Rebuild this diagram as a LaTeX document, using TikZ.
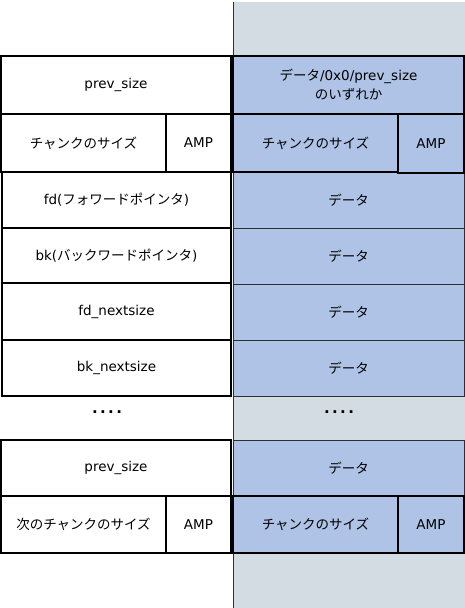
\documentclass[tikz,border=0pt]{standalone}
\usepackage{fontspec}
\setmainfont{DejaVu Sans}
\newfontfamily\jp[Scale=1.0]{Noto Sans CJK JP}
\definecolor{blueA}{HTML}{AEC3E6}
\definecolor{grayA}{HTML}{D3DCE3}
\definecolor{lineA}{HTML}{2B2F33}
\begin{document}
\begin{tikzpicture}[x=1pt,y=-1pt,
  cell/.style={draw=black, line width=1.6pt, inner sep=0pt, outer sep=0pt, align=center,
    font=\fontsize{13.5}{19}\selectfont},
  lcell/.style={cell, fill=white},
  rcell/.style={cell, fill=blueA, line width=1.4pt},
  dcell/.style={cell, fill=blueA, draw=lineA, line width=0.9pt},
  dots/.style={inner sep=0pt, font=\fontsize{15}{16}\selectfont\bfseries}
]
\useasboundingbox (0,0) rectangle (465,608);
% gray background column
\fill[grayA] (233,2) rectangle (465,608);
\draw[lineA, line width=0.8pt] (233,2) -- (233,608);

% ---- left column ----
\node[lcell, minimum width=230, minimum height=58] (lps1) at (116,85) {prev\_size};
\node[lcell, minimum width=165, minimum height=58] (lsz1) at (83.5,143) {{\jp チャンクのサイズ}};
\node[lcell, minimum width=65, minimum height=58] (lamp1) at (198.5,143) {AMP};
\node[lcell, minimum width=229, minimum height=56] (lfd) at (116.5,200) {fd({\jp フォワードポインタ})};
\node[lcell, minimum width=229, minimum height=55] (lbk) at (116.5,255.5) {bk({\jp バックワードポインタ})};
\node[lcell, minimum width=229, minimum height=57] (lfdn) at (116.5,312) {fd\_nextsize};
\node[lcell, minimum width=229, minimum height=56] (lbkn) at (116.5,368) {bk\_nextsize};
\node[dots] (ldots) at (107,412) {.\hspace{2.4pt}.\hspace{2.4pt}.\hspace{2.4pt}.};
\node[lcell, minimum width=230, minimum height=56] (lps2) at (116,468) {prev\_size};
\node[lcell, minimum width=165, minimum height=57] (lsz2) at (83.5,524.5) {{\jp 次のチャンクのサイズ}};
\node[lcell, minimum width=65, minimum height=57] (lamp2) at (198.5,524.5) {AMP};

% ---- right column ----
\node[rcell, minimum width=231, minimum height=58] (rtop) at (348.5,85) {{\jp データ}/0x0/prev\_size\\{\jp のいずれか}};
\node[dcell, minimum width=231, minimum height=56] (rd1) at (348.5,200) {{\jp データ}};
\node[dcell, minimum width=231, minimum height=56] (rd2) at (348.5,256) {{\jp データ}};
\node[dcell, minimum width=231, minimum height=56] (rd3) at (348.5,312) {{\jp データ}};
\node[dcell, minimum width=231, minimum height=56] (rd4) at (348.5,368) {{\jp データ}};
\node[rcell, minimum width=165, minimum height=58] (rsz1) at (315.5,143) {{\jp チャンクのサイズ}};
\node[rcell, minimum width=66, minimum height=59] (ramp1) at (431,143.5) {AMP};
\node[dots] (rdots) at (339,412) {.\hspace{2.4pt}.\hspace{2.4pt}.\hspace{2.4pt}.};
\node[dcell, minimum width=231, minimum height=56] (rd5) at (348.5,468) {{\jp データ}};
\node[rcell, minimum width=165, minimum height=57] (rsz2) at (315.5,524.5) {{\jp チャンクのサイズ}};
\node[rcell, minimum width=66, minimum height=57] (ramp2) at (431,524.5) {AMP};
\end{tikzpicture}
\end{document}
